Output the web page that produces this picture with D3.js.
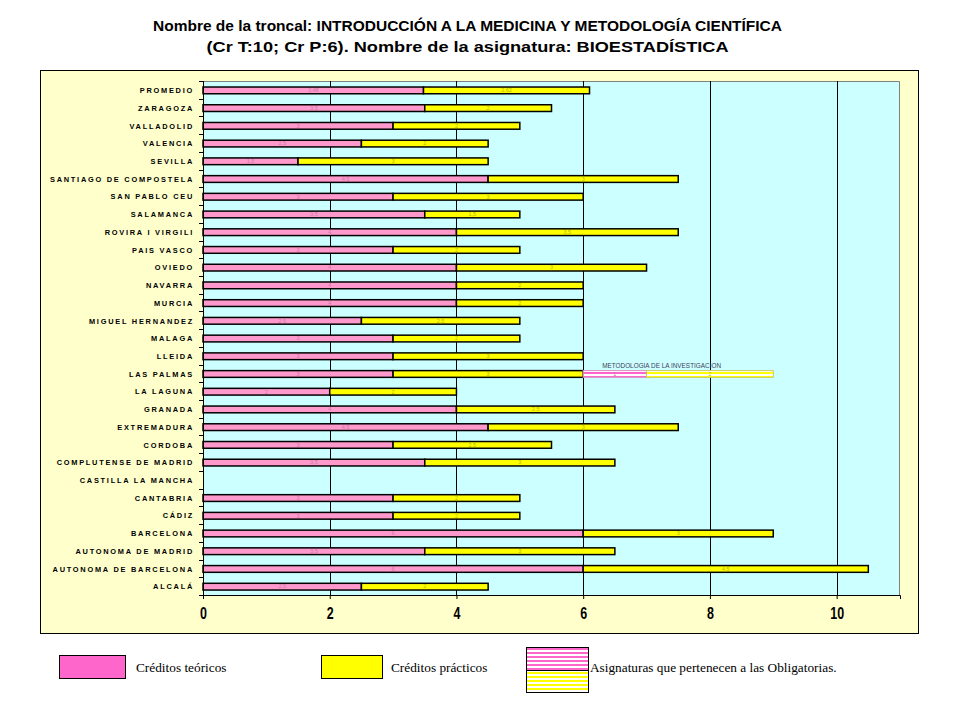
<!DOCTYPE html>
<html>
<head>
<meta charset="utf-8">
<script src="https://cdn.jsdelivr.net/npm/d3@7/dist/d3.min.js"></script>
<style>
  html, body { margin: 0; padding: 0; background: #ffffff; }
  svg { display: block; }
</style>
</head>
<body>
<svg id="chart" width="960" height="720"></svg>
<script>
// ---------- DATA ----------
const titleLines = [
  "Nombre de la troncal: INTRODUCCIÓN A LA MEDICINA Y METODOLOGÍA CIENTÍFICA",
  "(Cr T:10; Cr P:6). Nombre de la asignatura: BIOESTADÍSTICA"
];
const categories = [
  "PROMEDIO", "ZARAGOZA", "VALLADOLID", "VALENCIA", "SEVILLA",
  "SANTIAGO DE COMPOSTELA", "SAN PABLO CEU", "SALAMANCA", "ROVIRA I VIRGILI",
  "PAIS VASCO", "OVIEDO", "NAVARRA", "MURCIA", "MIGUEL HERNANDEZ", "MALAGA",
  "LLEIDA", "LAS PALMAS", "LA LAGUNA", "GRANADA", "EXTREMADURA", "CORDOBA",
  "COMPLUTENSE DE MADRID", "CASTILLA LA MANCHA", "CANTABRIA", "CÁDIZ",
  "BARCELONA", "AUTONOMA DE MADRID", "AUTONOMA DE BARCELONA", "ALCALÁ"
];
const teoricos = [
  3.48, 3.5, 3, 2.5, 1.5,
  4.5, 3, 3.5, 4,
  3, 4, 4, 4, 2.5, 3,
  3, 3, 2, 4, 4.5, 3,
  3.5, 0, 3, 3,
  6, 3.5, 6, 2.5
];
const practicos = [
  2.62, 2, 2, 2, 3,
  3, 3, 1.5, 3.5,
  2, 3, 2, 2, 2.5, 2,
  3, 3, 2, 2.5, 3, 2.5,
  3, 0, 2, 2,
  3, 3, 4.5, 2
];
// Obligatorias (extra subject) for LAS PALMAS
const obligCategory = "LAS PALMAS";
const obligNombre = "METODOLOGIA DE LA INVESTIGACION";
const obligTeoricos = 1;
const obligPracticos = 2;
const xTicks = [0, 2, 4, 6, 8, 10];
const legendItems = ["Créditos teóricos", "Créditos prácticos", "Asignaturas que pertenecen a las Obligatorias."];

// ---------- LAYOUT ----------
const svg = d3.select("#chart");
const plot = { left: 203, right: 900, top: 81, bottom: 595 };
const x = d3.scaleLinear().domain([0, 11]).range([plot.left, plot.right]);
const y = d3.scaleBand().domain(categories).range([plot.top, plot.bottom]).padding(0);
const bw = y.bandwidth();
const barOff = bw * 0.34, barH = bw * 0.38;
const fmt = v => String(v).replace(".", ",");

const PINK = "#FF99CC", YELLOW = "#FFFF00";

// patterns
const defs = svg.append("defs");
function stripes(id, color) {
  const p = defs.append("pattern").attr("id", id).attr("patternUnits", "userSpaceOnUse")
    .attr("width", 8).attr("height", 4);
  p.append("rect").attr("width", 8).attr("height", 4).attr("fill", "#ffffff");
  p.append("rect").attr("width", 8).attr("height", 2).attr("fill", color);
}
stripes("pinkStripes", "#FF66CC");
stripes("yellowStripes", "#FFFF00");

// title
svg.append("g").selectAll("text").data(titleLines).join("text")
  .attr("x", 467.5).attr("y", (d, i) => 31 + i * 21)
  .attr("text-anchor", "middle")
  .attr("textLength", (d, i) => [629, 522][i]).attr("lengthAdjust", "spacingAndGlyphs")
  .style("font-family", "'Liberation Sans', Arial, sans-serif")
  .style("font-weight", "bold").style("font-size", "15px")
  .attr("fill", "#000").text(d => d);

// outer chart box
svg.append("rect").attr("x", 40.5).attr("y", 70.5).attr("width", 878).attr("height", 563)
  .attr("fill", "#FFFFCC").attr("stroke", "#000").attr("stroke-width", 1);

// plot background
svg.append("rect").attr("x", plot.left).attr("y", plot.top)
  .attr("width", plot.right - plot.left).attr("height", plot.bottom - plot.top)
  .attr("fill", "#CCFFFF");
// grey border top/right
svg.append("path")
  .attr("d", `M${plot.left},${plot.top + 0.5}H${plot.right - 0.5}V${plot.bottom}`)
  .attr("fill", "none").attr("stroke", "#808080").attr("stroke-width", 1);

// gridlines
svg.append("g").selectAll("line").data(xTicks.filter(t => t > 0)).join("line")
  .attr("x1", d => Math.round(x(d)) + 0.5).attr("x2", d => Math.round(x(d)) + 0.5)
  .attr("y1", plot.top).attr("y2", plot.bottom)
  .attr("stroke", "#000").attr("stroke-width", 1);

// bars
const gBars = svg.append("g");
categories.forEach((c, i) => {
  const t = teoricos[i], p = practicos[i];
  const yy = y(c) + barOff;
  if (t > 0) {
    gBars.append("rect").attr("x", x(0)).attr("y", yy).attr("width", x(t) - x(0)).attr("height", barH)
      .attr("fill", PINK).attr("stroke", "#000").attr("stroke-width", 1.5);
  }
  if (p > 0) {
    gBars.append("rect").attr("x", x(t)).attr("y", yy).attr("width", x(t + p) - x(t)).attr("height", barH)
      .attr("fill", YELLOW).attr("stroke", "#000").attr("stroke-width", 1.5);
  }
  if (t > 0) {
    gBars.append("text").attr("x", (x(0) + x(t)) / 2).attr("y", yy + barH / 2 + 1.8)
      .attr("text-anchor", "middle").style("font-family", "'Liberation Sans', Arial, sans-serif")
      .style("font-size", "5.5px").attr("fill", "#c978a8").text(fmt(t));
  }
  if (p > 0) {
    gBars.append("text").attr("x", (x(t) + x(t + p)) / 2).attr("y", yy + barH / 2 + 1.8)
      .attr("text-anchor", "middle").style("font-family", "'Liberation Sans', Arial, sans-serif")
      .style("font-size", "5.5px").attr("fill", "#b8b800").text(fmt(p));
  }
});

// obligatorias extra bars
{
  const i = categories.indexOf(obligCategory);
  const base = teoricos[i] + practicos[i];
  const yy = y(obligCategory) + barOff;
  gBars.append("rect").attr("x", x(base)).attr("y", yy)
    .attr("width", x(base + obligTeoricos) - x(base)).attr("height", barH)
    .attr("fill", "url(#pinkStripes)").attr("stroke", "#d890c0").attr("stroke-width", 1);
  gBars.append("rect").attr("x", x(base + obligTeoricos)).attr("y", yy)
    .attr("width", x(base + obligTeoricos + obligPracticos) - x(base + obligTeoricos)).attr("height", barH)
    .attr("fill", "url(#yellowStripes)").attr("stroke", "#c8c860").attr("stroke-width", 1);
  gBars.append("text").attr("x", x(base + obligTeoricos / 2)).attr("y", yy + barH / 2 + 1.8)
    .attr("text-anchor", "middle").style("font-family", "'Liberation Sans', Arial, sans-serif")
    .style("font-size", "5.5px").attr("fill", "#c978a8").text(fmt(obligTeoricos));
  gBars.append("text").attr("x", x(base + obligTeoricos + obligPracticos / 2)).attr("y", yy + barH / 2 + 1.8)
    .attr("text-anchor", "middle").style("font-family", "'Liberation Sans', Arial, sans-serif")
    .style("font-size", "5.5px").attr("fill", "#b8b800").text(fmt(obligPracticos));
  gBars.append("text").attr("x", x(base) + 19).attr("y", yy - 2.5)
    .style("font-family", "'Liberation Sans', Arial, sans-serif")
    .style("font-size", "6.4px").attr("fill", "#404060").text(obligNombre);
}

// left axis (band boundaries ticks)
const gy = svg.append("g");
gy.append("line").attr("x1", plot.left + 0.5).attr("x2", plot.left + 0.5)
  .attr("y1", plot.top).attr("y2", plot.bottom).attr("stroke", "#000");
gy.selectAll("line.tk").data(d3.range(categories.length + 1)).join("line").attr("class", "tk")
  .attr("x1", plot.left - 4).attr("x2", plot.left)
  .attr("y1", d => Math.round(plot.top + d * bw) + 0.5).attr("y2", d => Math.round(plot.top + d * bw) + 0.5)
  .attr("stroke", "#000");
gy.selectAll("text").data(categories).join("text")
  .attr("x", 194).attr("y", d => y(d) + barOff + barH / 2 + 2.7)
  .attr("text-anchor", "end")
  .style("font-family", "'Liberation Sans', Arial, sans-serif")
  .style("font-weight", "bold")
  .style("font-size", "7.4px").style("letter-spacing", "1.75px")
  .attr("fill", "#000").text(d => d);

// bottom axis
const xAxis = d3.axisBottom(x).tickValues(xTicks).tickSize(4).tickFormat(d3.format("d"));
const gx = svg.append("g").attr("transform", `translate(0,${plot.bottom})`).call(xAxis);
gx.select(".domain").attr("stroke", "#000");
gx.selectAll(".tick line").attr("stroke", "#000");
gx.selectAll(".tick text")
  .attr("y", 0).attr("dy", 0)
  .attr("transform", "translate(0,24) scale(0.78,1)")
  .style("font-family", "'Liberation Sans Narrow', 'Arial Narrow', 'Liberation Sans', sans-serif")
  .style("font-weight", "bold").style("font-size", "16px").attr("fill", "#000");

// legend
const lg = svg.append("g");
lg.append("rect").attr("x", 59.5).attr("y", 655.5).attr("width", 66).attr("height", 23)
  .attr("fill", "#FF66CC").attr("stroke", "#000");
lg.append("rect").attr("x", 321.5).attr("y", 655.5).attr("width", 61).attr("height", 23)
  .attr("fill", "#FFFF00").attr("stroke", "#000");
lg.append("rect").attr("x", 526.5).attr("y", 647.5).attr("width", 62).attr("height", 23)
  .attr("fill", "url(#pinkStripes)").attr("stroke", "#000");
lg.append("rect").attr("x", 526.5).attr("y", 670.5).attr("width", 62).attr("height", 22)
  .attr("fill", "url(#yellowStripes)").attr("stroke", "#000");
lg.selectAll("text").data(legendItems).join("text")
  .attr("x", (d, i) => [136, 391, 590][i]).attr("y", 672)
  .style("font-family", "'Liberation Serif', 'Times New Roman', serif")
  .style("font-size", "13.3px").attr("fill", "#000").text(d => d);
</script>
</body>
</html>
